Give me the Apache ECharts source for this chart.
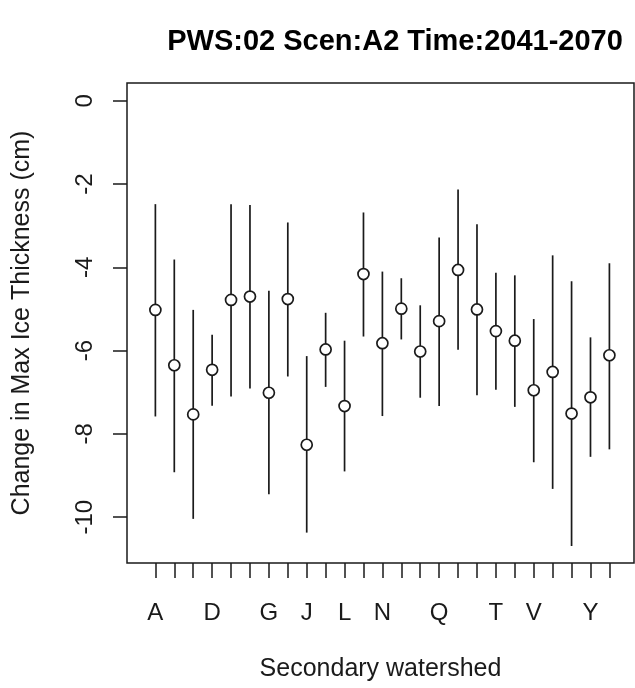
<!DOCTYPE html>
<html lang="en" style="height: 100%">
<head>
    <meta charset="UTF-8">
    <title>PWS:02 Scen:A2 Time:2041-2070</title>
    <script src="https://cdn.jsdelivr.net/npm/echarts@6/dist/echarts.min.js"></script>
</head>
<body style="height: 100%; margin: 0; background: #fff">
    <div id="main" style="width: 635px; height: 688px"></div>
    <script>
        // secondary watersheds (no "I")
        var categories = ['A', 'B', 'C', 'D', 'E', 'F', 'G', 'H', 'J', 'K', 'L', 'M', 'N',
            'O', 'P', 'Q', 'R', 'S', 'T', 'U', 'V', 'W', 'X', 'Y', 'Z'];
        var means = [-5.02, -6.35, -7.53, -6.46, -4.78, -4.70, -7.01, -4.76, -8.26, -5.97, -7.33, -4.16, -5.82,
            -4.99, -6.02, -5.29, -4.06, -5.01, -5.53, -5.76, -6.95, -6.51, -7.51, -7.12, -6.11];
        var upper = [-2.48, -3.81, -5.02, -5.62, -2.48, -2.50, -4.56, -2.92, -6.13, -5.09, -5.76, -2.68, -4.10,
            -4.26, -4.91, -3.28, -2.13, -2.96, -4.13, -4.19, -5.24, -3.71, -4.33, -5.68, -3.90];
        var lower = [-7.58, -8.92, -10.04, -7.32, -7.10, -6.91, -9.45, -6.62, -10.37, -6.87, -8.90, -5.66, -7.57,
            -5.73, -7.13, -7.33, -5.98, -7.07, -6.94, -7.35, -8.68, -9.32, -10.69, -8.55, -8.37];
        var yTicks = [0, -2, -4, -6, -8, -10];
        var xTickLabels = ['A', 'D', 'G', 'J', 'L', 'N', 'Q', 'T', 'V', 'Y'];

        var font = "'Liberation Sans', Arial, Helvetica, sans-serif";
        var ink = '#1a1a1a';

        var barData = [];
        var pointData = [];
        for (var i = 0; i < categories.length; i++) {
            barData.push([i, lower[i], upper[i]]);
            pointData.push([i, means[i]]);
        }
        var xTicks = categories.map(function (c, i) { return i; });
        var xLabelPos = xTickLabels.map(function (c) { return categories.indexOf(c); });

        var myChart = echarts.init(document.getElementById('main'));
        var option = {
            animation: false,
            backgroundColor: '#fff',
            textStyle: { fontFamily: font, color: ink },
            title: {
                text: 'PWS:02 Scen:A2 Time:2041-2070',
                left: 390,
                textAlign: 'center',
                top: 22,
                textStyle: { fontFamily: font, fontSize: 29, fontWeight: 'bold', color: '#000' }
            },
            grid: {
                left: 127, top: 83, width: 507, height: 480,
                show: true, borderColor: ink, borderWidth: 1.5, backgroundColor: 'transparent'
            },
            xAxis: {
                type: 'value',
                min: -1.5,
                max: 25.3,
                name: 'Secondary watershed',
                nameLocation: 'middle',
                nameGap: 94,
                nameTextStyle: { fontFamily: font, fontSize: 25, color: ink },
                axisLine: { show: false, onZero: false },
                splitLine: { show: false },
                axisTick: {
                    show: true, length: 15, inside: false,
                    customValues: xTicks,
                    lineStyle: { color: ink, width: 1.5 }
                },
                axisLabel: {
                    show: true,
                    customValues: xLabelPos,
                    margin: 38,
                    fontSize: 24, fontFamily: font, color: ink,
                    formatter: function (v) { return categories[v]; }
                }
            },
            yAxis: {
                type: 'value',
                min: -11.1,
                max: 0.43,
                name: 'Change in Max Ice Thickness (cm)',
                nameLocation: 'middle',
                nameGap: 92,
                nameTextStyle: { fontFamily: font, fontSize: 25, color: ink },
                axisLine: { show: false, onZero: false },
                splitLine: { show: false },
                axisTick: {
                    show: true, length: 14, inside: false,
                    customValues: yTicks,
                    lineStyle: { color: ink, width: 1.5 }
                },
                axisLabel: {
                    show: true,
                    customValues: yTicks,
                    rotate: 90,
                    margin: 30,
                    fontSize: 24, fontFamily: font, color: ink
                }
            },
            series: [
                {
                    type: 'custom',
                    data: barData,
                    z: 2,
                    renderItem: function (params, api) {
                        var p1 = api.coord([api.value(0), api.value(1)]);
                        var p2 = api.coord([api.value(0), api.value(2)]);
                        return {
                            type: 'line',
                            shape: { x1: p1[0], y1: p1[1], x2: p2[0], y2: p2[1] },
                            style: { stroke: ink, lineWidth: 1.7 }
                        };
                    }
                },
                {
                    type: 'scatter',
                    data: pointData,
                    z: 3,
                    symbol: 'circle',
                    symbolSize: 11,
                    itemStyle: { color: '#fff', borderColor: ink, borderWidth: 1.7, opacity: 1 }
                }
            ]
        };
        myChart.setOption(option);
    </script>
</body>
</html>
